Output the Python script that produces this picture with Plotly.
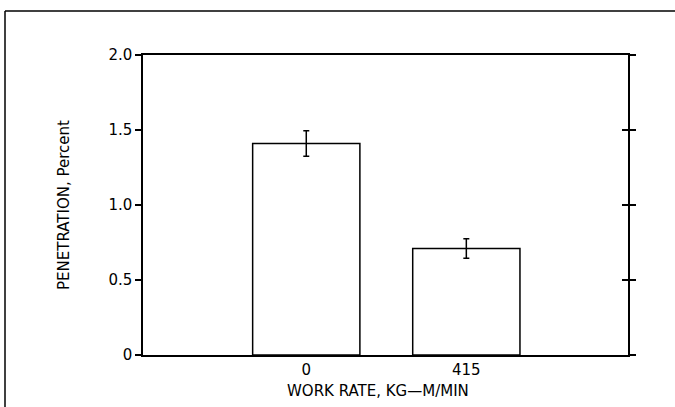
import plotly.graph_objects as go

categories = ["0", "415"]
penetration = [1.41, 0.71]
error = [0.085, 0.065]
y_tick_vals = [0, 0.5, 1.0, 1.5, 2.0]
y_tick_text = ["0", "0.5", "1.0", "1.5", "2.0"]

FONT = "DejaVu Sans"
xpos = list(range(len(categories)))

fig = go.Figure()
fig.add_trace(go.Bar(
    x=xpos, y=penetration, width=0.67,
    marker=dict(color="white", line=dict(color="black", width=1.5)),
    error_y=dict(type="data", array=error, visible=True, color="black",
                 thickness=1.5, width=3),
    showlegend=False, hoverinfo="skip",
))
fig.add_trace(go.Scatter(x=[0], y=[0], yaxis="y2", mode="markers",
                         marker=dict(opacity=0), showlegend=False,
                         hoverinfo="skip"))

fx = lambda px: (px - 143) / 485
fy = lambda py: (355 - py) / 300

fig.update_layout(
    width=675, height=407,
    margin=dict(l=143, r=47, t=55, b=52),
    paper_bgcolor="white", plot_bgcolor="white",
    font=dict(family=FONT, size=15, color="black"),
    xaxis=dict(range=[-1.02, 2.01], tickvals=xpos, ticktext=categories,
               ticks="", showline=True, linecolor="black", linewidth=1.5,
               mirror=True, showgrid=False, zeroline=False,
               tickfont=dict(size=15, family=FONT)),
    yaxis=dict(range=[0, 2], tickvals=y_tick_vals, ticktext=y_tick_text,
               ticks="outside", ticklen=6, tickwidth=1.5, tickcolor="black",
               showline=True, linecolor="black", linewidth=1.5,
               mirror="ticks", showgrid=False, zeroline=False,
               tickfont=dict(size=15, family=FONT)),
    yaxis2=dict(range=[0, 2], tickvals=y_tick_vals, overlaying="y",
                side="right", ticks="inside", ticklen=6, tickwidth=1.5,
                tickcolor="black", showticklabels=False, showline=False,
                showgrid=False, zeroline=False),
    annotations=[
        dict(text="PENETRATION, Percent", xref="paper", yref="paper",
             x=fx(53), y=0.5, textangle=-90,
             showarrow=False, font=dict(size=15, family=FONT)),
        dict(text="WORK RATE, KG\u2014M/MIN", xref="paper", yref="paper",
             x=fx(378), y=fy(391), yanchor="middle",
             showarrow=False, font=dict(size=15, family=FONT)),
    ],
    shapes=[
        dict(type="line", xref="paper", yref="paper",
             x0=fx(5), x1=fx(5), y0=fy(420), y1=fy(11),
             line=dict(color="black", width=1.5)),
        dict(type="line", xref="paper", yref="paper",
             x0=fx(5), x1=fx(700), y0=fy(11), y1=fy(11),
             line=dict(color="black", width=1.5)),
    ],
)

fig.write_html("out.html", config={"displayModeBar": False})
with open("out.html", encoding="utf-8") as f:
    html = f.read()
html = html.replace("<body>", '<body style="margin:0;padding:0;overflow:hidden">', 1)
with open("out.html", "w", encoding="utf-8") as f:
    f.write(html)
